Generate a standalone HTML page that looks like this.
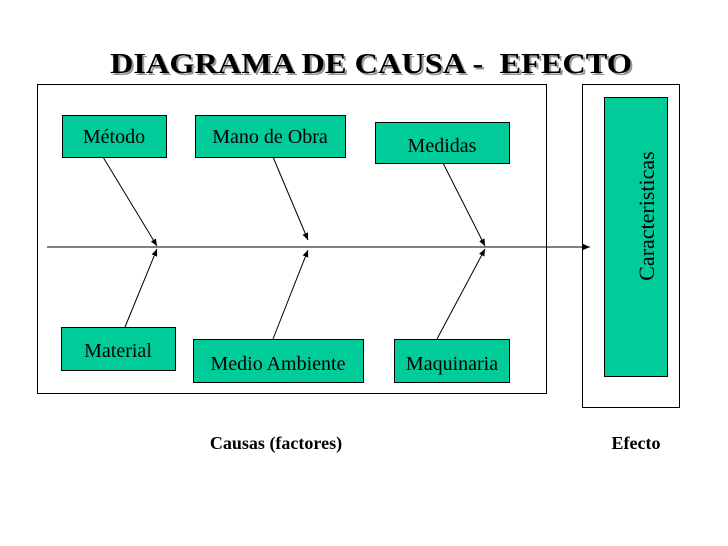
<!DOCTYPE html>
<html><head><meta charset="utf-8"><style>html,body{margin:0;padding:0;background:#fff}svg{display:block}</style></head>
<body>
<svg width="728" height="546" viewBox="0 0 728 546" xmlns="http://www.w3.org/2000/svg" font-family="'Liberation Serif', serif">
<defs><marker id="a" markerWidth="8" markerHeight="8" refX="7" refY="4" orient="auto" markerUnits="userSpaceOnUse"><path d="M0,1 L7,4 L0,7 z" fill="#000"/></marker></defs>
<text x="110" y="73" font-size="29" font-weight="bold" fill="#999" textLength="522" lengthAdjust="spacingAndGlyphs" xml:space="preserve" transform="translate(2,2)">DIAGRAMA DE CAUSA -  EFECTO</text>
<text x="110" y="73" font-size="29" font-weight="bold" fill="#000" textLength="522" lengthAdjust="spacingAndGlyphs" xml:space="preserve">DIAGRAMA DE CAUSA -  EFECTO</text>
<rect x="37.5" y="84.5" width="509" height="309" fill="none" stroke="#000"/>
<rect x="582.5" y="84.5" width="97" height="323" fill="none" stroke="#000"/>
<g stroke="#000" stroke-width="1" fill="none">
<line x1="47" y1="247" x2="590" y2="247" marker-end="url(#a)"/>
<line x1="103" y1="157" x2="157" y2="246" marker-end="url(#a)"/>
<line x1="273" y1="157" x2="308" y2="240" marker-end="url(#a)"/>
<line x1="443" y1="163" x2="485" y2="246" marker-end="url(#a)"/>
<line x1="125" y1="327" x2="157" y2="249" marker-end="url(#a)"/>
<line x1="273" y1="339" x2="308" y2="250" marker-end="url(#a)"/>
<line x1="437" y1="339" x2="485" y2="249" marker-end="url(#a)"/>
</g>
<g fill="#00cc99" stroke="#000" stroke-width="1">
<rect x="62.5" y="115.5" width="104" height="42"/>
<rect x="195.5" y="115.5" width="150" height="42"/>
<rect x="375.5" y="122.5" width="134" height="41"/>
<rect x="61.5" y="327.5" width="114" height="43"/>
<rect x="193.5" y="339.5" width="170" height="43"/>
<rect x="394.5" y="339.5" width="115" height="43"/>
<rect x="604.5" y="97.5" width="63" height="279"/>
</g>
<g font-size="20" fill="#000" text-anchor="middle">
<text x="114" y="143">Método</text>
<text x="270" y="143">Mano de Obra</text>
<text x="442" y="152">Medidas</text>
<text x="118" y="357">Material</text>
<text x="278" y="370">Medio Ambiente</text>
<text x="452" y="370">Maquinaria</text>
<text transform="translate(654,216) rotate(-90)" font-size="22">Caracteristicas</text>
</g>
<g font-size="18" font-weight="bold" text-anchor="middle">
<text x="276" y="449">Causas (factores)</text>
<text x="636" y="449">Efecto</text>
</g>
</svg>
</body></html>
